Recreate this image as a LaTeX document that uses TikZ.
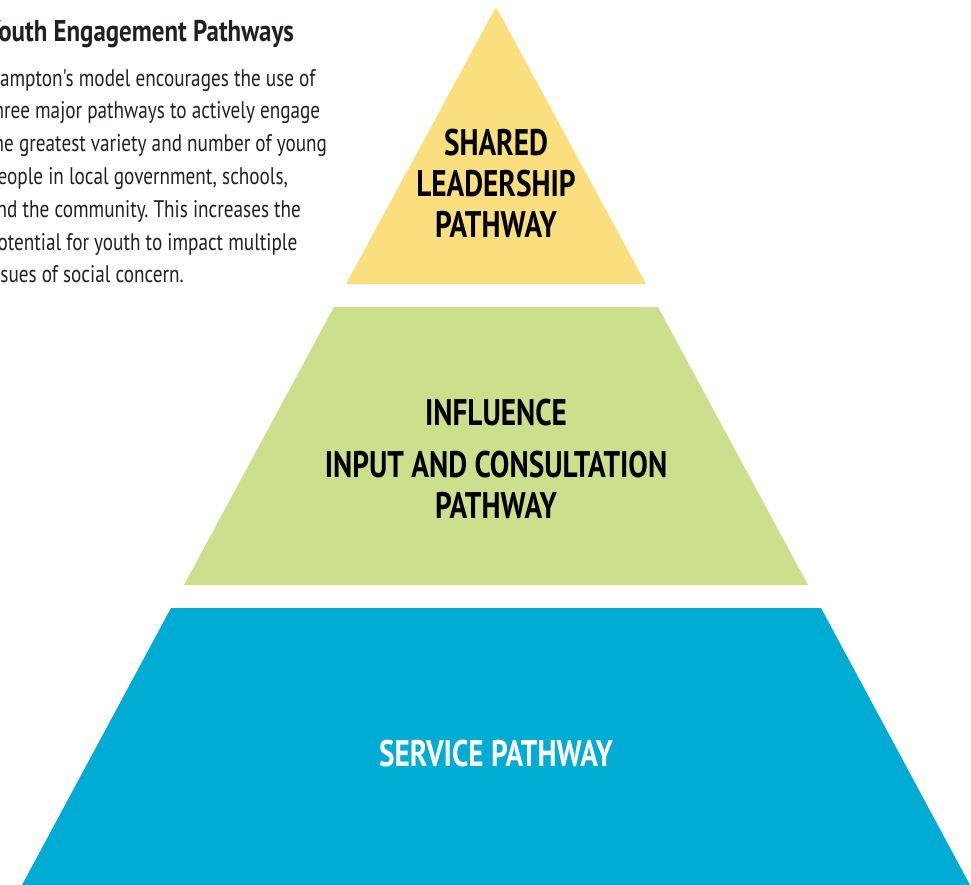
\documentclass[tikz,border=0pt]{standalone}
\usepackage{fontspec}
\setmainfont{PT Sans}
\newfontfamily\narrowfont[FakeStretch=0.80]{PT Sans}
\newfontfamily\titlefont[FakeStretch=0.83]{PT Sans}
\newfontfamily\labelfont[FakeStretch=0.79]{PT Sans}
\definecolor{leadyellow}{HTML}{FBDE7D}
\definecolor{inputgreen}{HTML}{CCDF8C}
\definecolor{serviceblue}{HTML}{00ACD4}
\definecolor{inkgray}{HTML}{231F20}
\frenchspacing
\tikzset{
  pathlabel/.style={font=\labelfont\bfseries\fontsize{37}{41}\selectfont,
    align=center, inner sep=0pt},
  introtitle/.style={font=\titlefont\bfseries\fontsize{30}{34}\selectfont,
    text=inkgray, inner sep=0pt},
  introbody/.style={font=\narrowfont\fontsize{24}{32.8}\selectfont,
    text=inkgray, align=left, inner sep=0pt}
}
\begin{document}
\begin{tikzpicture}[x=1pt,y=-1pt]
  \useasboundingbox (0,0) rectangle (971,885);
  \clip (0,0) rectangle (971,885);
  % pyramid bands
  \fill[leadyellow] (496,7) -- (646,284) -- (346,284) -- cycle;
  \fill[inputgreen] (334,307) -- (658,307) -- (808,585) -- (184,585) -- cycle;
  \fill[serviceblue] (171,608) -- (821,608) -- (970,885) -- (22,885) -- cycle;
  % band labels (base = last line)
  \node[pathlabel, anchor=base] (shared) at (496,238) {SHARED\\LEADERSHIP\\PATHWAY};
  \node[pathlabel, anchor=base] (influence) at (496,518)
    {INFLUENCE\\[11pt]INPUT AND CONSULTATION\\PATHWAY};
  \node[pathlabel, anchor=base, text=white] (service) at (496,766) {SERVICE PATHWAY};
  % intro text, cut at the left edge
  \node[introtitle, anchor=base west] (title) at (-14,42) {Youth Engagement Pathways};
  \node[introbody, anchor=base west] (intro) at (-13,283)
    {Hampton's model encourages the use of\\
     three major pathways to actively engage\\
     the greatest variety and number of young\\
     people in local government, schools,\\
     and the community. This increases the\\
     potential for youth to impact multiple\\
     issues of social concern.};
\end{tikzpicture}
\end{document}
